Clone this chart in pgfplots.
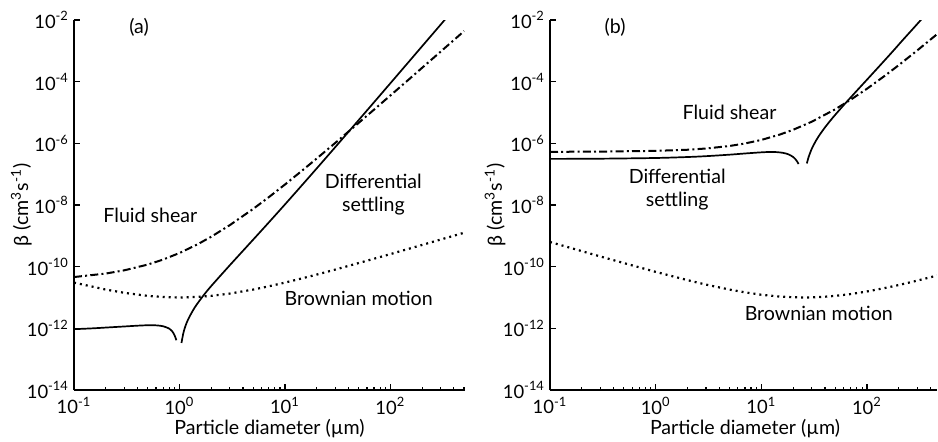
\documentclass[border=0pt]{standalone}
\usepackage{fontspec}
\setmainfont{Lato}
\usepackage{pgfplots}
\pgfplotsset{compat=1.18}

\tikzset{
  dsline/.style={black, line width=0.85pt},
  shearline/.style={black, line width=1pt, dash pattern=on 4pt off 1.6pt on 1pt off 1.6pt},
  brownline/.style={black, line width=1.1pt, dash pattern=on 1pt off 2pt},
}

\begin{document}
\begin{tikzpicture}[font=\fontsize{9.8}{11.5}\selectfont]
\path[use as bounding box] (0,0) rectangle (469pt,220.5pt);

% (a) collisions with a 1 um particle
\begin{axis}[at={(37pt,25.5pt)}, anchor=south west,
    xmode=log, ymode=log, scale only axis,
    width=195.5pt, height=185pt,
    xmin=0.1, xmax=510, ymin=1e-14, ymax=1e-2,
    axis x line*=bottom, axis y line*=left,
    axis line style={line width=0.9pt},
    tick align=inside,
    major tick length=3.2pt, minor tick length=1.6pt,
    every tick/.style={black, line width=0.6pt},
    xtick={0.1,1,10,100},
    xticklabels={10\textsuperscript{-1},10\textsuperscript{0},10\textsuperscript{1},10\textsuperscript{2}},
    minor xtick={0.2,0.3,0.4,0.5,0.6,0.7,0.8,0.9,2,3,4,5,6,7,8,9,20,30,40,50,60,70,80,90,200,300,400,500},
    ytick={1e-14,1e-12,1e-10,1e-8,1e-6,1e-4,1e-2},
    yticklabels={10\textsuperscript{-14},10\textsuperscript{-12},10\textsuperscript{-10},10\textsuperscript{-8},10\textsuperscript{-6},10\textsuperscript{-4},10\textsuperscript{-2}},
    yminorticks=false,
    tick label style={font=\fontsize{9.2}{11}\selectfont},
    yticklabel style={xshift=1pt},
    xlabel={Particle diameter (µm)},
    ylabel={β (cm\textsuperscript{3}s\textsuperscript{-1})},
    xlabel style={at={(axis description cs:0.5,-0.103)}, anchor=center},
    ylabel style={at={(axis description cs:-0.135,0.5)}, anchor=center},
    clip mode=individual]
\addplot[shearline] coordinates {
 (0.1,4.61e-11) (0.2,5.99e-11) (0.3,7.62e-11) (0.5,1.17e-10) (0.7,1.70e-10)
 (1,2.77e-10) (1.5,5.42e-10) (2,9.35e-10) (3,2.22e-9) (5,7.48e-9)
 (7,1.77e-8) (10,4.61e-8) (15,1.42e-7) (20,3.21e-7) (30,1.03e-6)
 (50,4.60e-6) (70,1.24e-5) (100,3.57e-5) (150,1.19e-4) (200,2.82e-4)
 (300,9.46e-4) (500,4.37e-3)};
\addplot[brownline] coordinates {
 (0.1,3.04e-11) (0.2,1.81e-11) (0.3,1.42e-11) (0.5,1.13e-11) (0.7,1.04e-11)
 (1,1.00e-11) (1.5,1.05e-11) (2,1.13e-11) (3,1.34e-11) (5,1.81e-11)
 (7,2.30e-11) (10,3.04e-11) (15,4.29e-11) (20,5.53e-11) (30,8.05e-11)
 (50,1.31e-10) (70,1.81e-10) (100,2.56e-10) (150,3.82e-10) (200,5.07e-10)
 (300,7.59e-10) (500,1.26e-9)};
\addplot[dsline, smooth] coordinates {
 (0.1,9.4e-13) (0.15,1.00e-12) (0.2,1.06e-12) (0.3,1.15e-12) (0.4,1.22e-12)
 (0.5,1.26e-12) (0.6,1.25e-12) (0.7,1.17e-12) (0.8,9.8e-13) (0.85,8.2e-13)
 (0.9,5.9e-13) (0.935,4.10e-13)};
\addplot[dsline, smooth] coordinates {
 (1.045,3.35e-13) (1.1,8.07e-13) (1.2,1.85e-12) (1.4,4.82e-12) (1.7,1.20e-11)
 (2,2.35e-11) (3,1.11e-10) (5,7.53e-10) (7,2.67e-9) (10,1.04e-8)
 (15,4.99e-8) (20,1.53e-7) (30,7.52e-7) (50,5.66e-6) (70,2.15e-5)
 (100,8.89e-5) (150,4.47e-4) (200,1.41e-3) (300,7.10e-3) (400,2.24e-2)};
\node at (axis cs:0.414,5.6e-3) {(a)};
\node at (axis cs:0.53,4.7e-9) {Fluid shear};
\node[align=center] at (axis cs:69,2.24e-8) {Differential\\settling};
\node at (axis cs:50,9.3e-12) {Brownian motion};
\end{axis}

% (b) collisions with a 25 um particle
\begin{axis}[at={(275pt,25.5pt)}, anchor=south west,
    xmode=log, ymode=log, scale only axis,
    width=193.5pt, height=185pt,
    xmin=0.1, xmax=460, ymin=1e-14, ymax=1e-2,
    axis x line*=bottom, axis y line*=left,
    axis line style={line width=0.9pt},
    tick align=inside,
    major tick length=3.2pt, minor tick length=1.6pt,
    every tick/.style={black, line width=0.6pt},
    xtick={0.1,1,10,100},
    xticklabels={10\textsuperscript{-1},10\textsuperscript{0},10\textsuperscript{1},10\textsuperscript{2}},
    minor xtick={0.2,0.3,0.4,0.5,0.6,0.7,0.8,0.9,2,3,4,5,6,7,8,9,20,30,40,50,60,70,80,90,200,300,400},
    ytick={1e-14,1e-12,1e-10,1e-8,1e-6,1e-4,1e-2},
    yticklabels={10\textsuperscript{-14},10\textsuperscript{-12},10\textsuperscript{-10},10\textsuperscript{-8},10\textsuperscript{-6},10\textsuperscript{-4},10\textsuperscript{-2}},
    yminorticks=false,
    tick label style={font=\fontsize{9.2}{11}\selectfont},
    yticklabel style={xshift=1pt},
    xlabel={Particle diameter (µm)},
    ylabel={β (cm\textsuperscript{3}s\textsuperscript{-1})},
    xlabel style={at={(axis description cs:0.504,-0.103)}, anchor=center},
    ylabel style={at={(axis description cs:-0.142,0.5)}, anchor=center},
    clip mode=individual]
\addplot[shearline] coordinates {
 (0.1,5.3e-7) (0.3,5.4e-7) (1,5.7e-7) (2,6.2e-7) (3,6.8e-7)
 (5,8.2e-7) (7,9.9e-7) (10,1.29e-6) (15,1.93e-6) (20,2.75e-6)
 (30,5.02e-6) (50,1.27e-5) (70,2.59e-5) (100,5.90e-5) (150,1.62e-4)
 (200,3.44e-4) (300,1.04e-3) (500,4.37e-3)};
\addplot[brownline] coordinates {
 (0.1,6.32e-10) (0.2,3.19e-10) (0.3,2.14e-10) (0.5,1.31e-10) (1,6.79e-11)
 (2,3.66e-11) (3,2.62e-11) (5,1.81e-11) (7,1.47e-11) (10,1.23e-11)
 (15,1.07e-11) (20,1.02e-11) (25,1.00e-11) (30,1.01e-11) (40,1.06e-11)
 (50,1.13e-11) (70,1.29e-11) (100,1.57e-11) (150,2.05e-11) (200,2.54e-11)
 (300,3.54e-11) (500,5.53e-11)};
\addplot[dsline, smooth] coordinates {
 (0.1,3.13e-7) (0.3,3.18e-7) (1,3.35e-7) (2,3.60e-7) (3,3.84e-7)
 (5,4.29e-7) (7,4.69e-7) (10,5.11e-7) (12,5.24e-7) (14,5.19e-7)
 (16,4.92e-7) (18,4.43e-7) (20,3.62e-7) (21,3.09e-7) (22,2.47e-7)
 (22.5,2.13e-7)};
\addplot[dsline, smooth] coordinates {
 (27,2.23e-7) (28,3.55e-7) (30,6.61e-7) (33,1.24e-6) (36,1.98e-6)
 (40,3.27e-6) (45,5.45e-6) (50,8.38e-6) (60,1.71e-5) (70,3.06e-5)
 (85,6.34e-5) (100,1.16e-4) (130,3.10e-4) (170,8.53e-4) (220,2.31e-3)
 (300,7.50e-3) (400,2.29e-2)};
\node at (axis cs:0.413,5.6e-3) {(b)};
\node at (axis cs:5,1.02e-5) {Fluid shear};
\node[align=center] at (axis cs:1.6,3.2e-8) {Differential\\settling};
\node at (axis cs:35,3.1e-12) {Brownian motion};
\end{axis}
\end{tikzpicture}
\end{document}
